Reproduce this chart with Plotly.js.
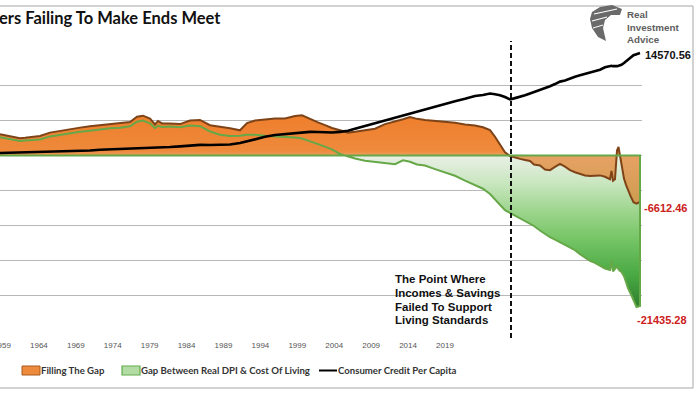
<!DOCTYPE html>
<html><head><meta charset="utf-8">
<script src="https://cdn.plot.ly/plotly-3.0.1.min.js"></script>
<style>html,body{margin:0;padding:0;background:#fff;} #chart{width:700px;height:394px;}</style>
</head><body><div id="chart"></div>
<script>
// ---- data ----
const years = [
  1959.0,1959.5,1960.0,1960.5,1961.0,1961.5,1962.0,1963.0,1964.0,1965.0,1966.0,1967.0,1968.0,1969.0,1970.0,1971.0,1972.0,
  1972.7,1973.3,1974.0,1974.5,1974.8,1975.2,1976.0,1977.0,1978.0,1979.0,1980.0,1981.0,1982.0,1983.0,
  1983.7,1984.5,1985.5,1986.5,1987.5,1988.5,1989.2,1990.0,1990.8,1991.5,1992.2,1993.0,
  1993.8,1994.5,1995.5,1996.5,1997.5,1998.5,1999.3,2000.0,2000.7,2001.5,2002.5,2003.5,2004.5,2005.5,2006.5,2007.3,2008.0,2008.5,2009.0,2009.5,
  2010.0,2010.5,2011.0,2011.5,2012.0,2012.4,2013.0,2013.5,2014.0,2014.5,2015.0,2015.5,2016.0,2016.5,2017.0,2017.5,2018.0,2018.5,2019.0,2019.5,
  2020.0,2020.15,2020.3,2020.5,2020.7,2020.85,2020.95,2021.15,2021.4,2021.6,2021.8,2022.1,2022.35,2022.65,2023.0
];
const fillingTheGap = [
  3000,2850,2700,2550,2450,2500,2600,2750,3240,3500,3750,3950,4150,4290,4450,4550,4760,
  5500,5650,5240,4400,4900,4550,4530,4450,4950,5050,4300,4100,3850,3570,
  4600,4950,5100,5250,5250,5600,5700,5150,4700,4300,3900,3570,
  3240,3350,3550,3800,4450,4800,5150,5450,5200,5050,4950,4750,4650,4400,4250,4000,3600,2650,1450,450,
  -100,-350,-500,-650,-800,-1300,-1450,-2000,-2100,-1650,-1200,-1600,-2100,-2400,-2650,-2850,-2950,-2900,-2850,-3050,
  -3400,-2200,-3600,-3400,700,1190,400,-1670,-3300,-4200,-5000,-5950,-6670,-6860,-6612.46
];
const gapDpiCostOfLiving = [
  2600,2450,2300,2150,2050,2100,2150,2250,2700,2950,3150,3350,3500,3700,3850,3950,4150,
  4800,4950,4550,3900,4200,4050,4100,4000,4250,4150,3400,2950,2750,2800,
  2950,2950,2800,2700,2700,2550,2400,2050,1600,1250,850,200,
  -200,-450,-750,-950,-1100,-1250,-700,-900,-1300,-1450,-1950,-2450,-2900,-3600,-4300,-4750,-5500,-6300,-7140,-7800,
  -8200,-8600,-9050,-9400,-9750,-10050,-10700,-11200,-11650,-12000,-12350,-12700,-13100,-13500,-14050,-14500,-15000,-15300,-15700,-16100,
  -16300,-15000,-16500,-16200,-15800,-16200,-16400,-16600,-17200,-18000,-18900,-19800,-20700,-21600,-21435.28
];
const consumerCreditPerCapita = [
  330,350,370,380,390,400,410,430,470,530,580,620,700,800,840,880,950,
  1000,1050,1080,1100,1110,1120,1190,1280,1400,1500,1480,1500,1550,1750,
  2000,2300,2650,2900,3050,3200,3300,3350,3330,3280,3250,3350,
  3500,3800,4200,4600,4950,5300,5650,5950,6250,6600,6950,7350,7700,8050,8450,8600,8800,8700,8570,8300,
  7960,8150,8330,8550,8810,9000,9380,9600,9850,10150,10500,10650,10950,11200,11400,11600,11800,12000,12200,12550,
  12750,12750,12700,12650,12700,12750,12800,12900,13150,13400,13650,14000,14250,14400,14570.56
];
const tickYears = [1959,1964,1969,1974,1979,1984,1989,1994,1999,2004,2009,2014,2019];
const tickLabels = tickYears.map(String);
const seriesNames = ["Filling The Gap", "Gap Between Real DPI & Cost Of Living", "Consumer Credit Per Capita"];
const titleText = "ers Failing To Make Ends Meet";
const eventYear = 2010.1;
const eventLines = ["The Point Where", "Incomes & Savings", "Failed To Support", "Living Standards"];
const logoText = "Real<br>Investment<br>Advice";

// ---- layout geometry helpers (pixels -> paper) ----
const W = 700, H = 394, M = {l: 0, r: 58, t: 50, b: 63};
const PW = W - M.l - M.r, PH = H - M.t - M.b;
const px = x => (x - M.l) / PW;
const py = y => (H - M.b - y) / PH;
const pathFrom = pts => 'M' + pts.map(p => px(p[0]).toFixed(4) + ',' + py(p[1]).toFixed(4)).join('L') + 'Z';

const n = years.length;
const lastYear = years[n - 1];
const closedX = years.concat([lastYear, years[0]]);
const closedGap = gapDpiCostOfLiving.concat([0, 0]);

const traces = [
  { // green area (gradient)
    x: closedX, y: closedGap, type: 'scatter', mode: 'lines', fill: 'toself',
    line: {width: 0, color: 'rgba(0,0,0,0)'},
    fillgradient: {type: 'vertical', start: -22000, stop: 0,
      colorscale: [[0, '#2c7a2c'], [0.22, '#48a842'], [0.45, '#74c464'], [0.65, '#a0d690'], [0.82, '#c9e6bf'], [1, '#eaf0e7']]},
    showlegend: false, hoverinfo: 'skip', name: seriesNames[1]
  },
  { // orange area
    x: years, y: fillingTheGap, type: 'scatter', mode: 'lines', fill: 'tozeroy',
    line: {width: 2, color: '#7e4418'},
    fillgradient: {type: 'vertical', start: -7000, stop: 5700,
      colorscale: [[0, 'rgba(215,135,55,0.75)'], [0.54, 'rgba(230,135,55,0.75)'], [0.6, 'rgba(238,132,50,0.95)'], [1, 'rgba(238,126,44,1)']]},
    showlegend: false, hoverinfo: 'skip', name: seriesNames[0]
  },
  { // green outline on top
    x: closedX, y: closedGap, type: 'scatter', mode: 'lines',
    line: {width: 2, color: '#66a848'},
    showlegend: false, hoverinfo: 'skip', name: seriesNames[1]
  },
  { // consumer credit
    x: years, y: consumerCreditPerCapita, type: 'scatter', mode: 'lines',
    line: {width: 2.6, color: '#000000'},
    showlegend: false, hoverinfo: 'skip', name: seriesNames[2]
  },
  { // carrier for the label axis
    x: tickYears, y: tickYears.map(() => null), xaxis: 'x2', type: 'scatter', mode: 'lines',
    showlegend: false, hoverinfo: 'skip'
  }
];

const fmt = v => v.toFixed(2);
const annotations = [
  {xref: 'paper', yref: 'paper', x: px(0), y: py(18), xanchor: 'left', yanchor: 'middle', xshift: -3,
   text: '<b>' + titleText + '</b>', showarrow: false, font: {family: 'Lato, Arial', size: 16.5, color: '#111'}},
  {xref: 'x', yref: 'y', x: lastYear, y: consumerCreditPerCapita[n - 1], xanchor: 'left', yanchor: 'middle', xshift: 3, yshift: -2,
   text: '<b>' + fmt(consumerCreditPerCapita[n - 1]) + '</b>', showarrow: false, font: {family: 'Liberation Sans, Arial', size: 11, color: '#111'}},
  {xref: 'x', yref: 'y', x: lastYear, y: fillingTheGap[n - 1], xanchor: 'left', yanchor: 'middle', xshift: 2, yshift: -6,
   text: '<b>' + fmt(fillingTheGap[n - 1]) + '</b>', showarrow: false, font: {family: 'Liberation Sans, Arial', size: 11, color: '#cc2020'}},
  {xref: 'x', yref: 'y', x: lastYear, y: gapDpiCostOfLiving[n - 1], xanchor: 'left', yanchor: 'middle', xshift: -5, yshift: -14,
   text: '<b>' + fmt(gapDpiCostOfLiving[n - 1]) + '</b>', showarrow: false, font: {family: 'Liberation Sans, Arial', size: 11, color: '#cc2020'}},
  {xref: 'paper', yref: 'paper', x: px(627), y: py(26.5), xanchor: 'left', yanchor: 'middle', xshift: -2, align: 'left',
   text: '<b>' + logoText + '</b>', showarrow: false, font: {family: 'Liberation Sans, Arial', size: 9.8, color: '#5e5e5e'}}
];
eventLines.forEach((t, i) => annotations.push({
  xref: 'paper', yref: 'paper', x: px(395), y: py(279 + i * 13.8), xanchor: 'left', yanchor: 'middle', xshift: -2,
  text: '<b>' + t + '</b>', showarrow: false, font: {family: 'Liberation Sans, Arial', size: 11.5, color: '#111'}
}));
const legendTextX = [41, 141, 338];
seriesNames.forEach((t, i) => annotations.push({
  xref: 'paper', yref: 'paper', x: px(legendTextX[i]), y: py(370.5), xanchor: 'left', yanchor: 'middle', xshift: -2,
  text: '<b>' + t + '</b>', showarrow: false, font: {family: 'Lato, Arial', size: 9.6, color: '#333'}
}));

const shapes = [
  {type: 'rect', xref: 'paper', yref: 'paper', x0: px(-5), x1: px(693), y0: py(388), y1: py(6),
   line: {color: '#a6a6a6', width: 1}, fillcolor: 'rgba(0,0,0,0)', layer: 'below'},
  {type: 'line', xref: 'x', yref: 'paper', x0: eventYear, x1: eventYear, y0: py(338), y1: py(41),
   line: {color: '#111', width: 2, dash: '5px,3px'}, layer: 'above'},
  // legend swatches
  {type: 'rect', xref: 'paper', yref: 'paper', x0: px(22), x1: px(40), y0: py(375), y1: py(366),
   fillcolor: '#ee8a3c', line: {color: '#a85a22', width: 1}},
  {type: 'rect', xref: 'paper', yref: 'paper', x0: px(122), x1: px(140), y0: py(375), y1: py(366),
   fillcolor: '#b2dca4', line: {color: '#62ac4c', width: 1.2}},
  {type: 'line', xref: 'paper', yref: 'paper', x0: px(319), x1: px(337), y0: py(370.5), y1: py(370.5),
   line: {color: '#000', width: 2}},
  // logo mark
  {type: 'path', xref: 'paper', yref: 'paper', fillcolor: '#6a6a6a', line: {width: 0},
   path: pathFrom([[592,12],[600,7],[612,5],[622,9],[620,15],[611,15],[605,20],[603,28],[606,41],[598,37],[592,28],[590,19]])},
  {type: 'line', xref: 'paper', yref: 'paper', x0: px(594), x1: px(617), y0: py(14), y1: py(9), line: {color: '#fff', width: 1.2}},
  {type: 'line', xref: 'paper', yref: 'paper', x0: px(592), x1: px(607), y0: py(21), y1: py(17), line: {color: '#fff', width: 1.2}},
  {type: 'line', xref: 'paper', yref: 'paper', x0: px(593), x1: px(603), y0: py(28), y1: py(25), line: {color: '#fff', width: 1}}
];

const layout = {
  width: W, height: H, margin: M,
  paper_bgcolor: '#fff', plot_bgcolor: '#fff', showlegend: false,
  xaxis: {range: [1959, 2023.2], visible: false, fixedrange: true},
  xaxis2: {overlaying: 'x', anchor: 'y', side: 'bottom', range: [1958.73, 2045.69],
    tickmode: 'array', tickvals: tickYears, ticktext: tickLabels, ticks: '', showgrid: false, zeroline: false, showline: false,
    ticklabelstandoff: 8, ticklabeloverflow: 'allow',
    tickfont: {family: 'Liberation Sans, Arial', size: 8, color: '#555'}},
  yaxis: {range: [-25000, 15000], dtick: 5000, tick0: 0, showgrid: true, gridcolor: '#b8b8b8', gridwidth: 1,
    zeroline: false, showticklabels: false, ticks: '', showline: false, fixedrange: true},
  annotations: annotations, shapes: shapes
};

Plotly.newPlot('chart', traces, layout, {staticPlot: true, displayModeBar: false});
</script>
</body></html>
